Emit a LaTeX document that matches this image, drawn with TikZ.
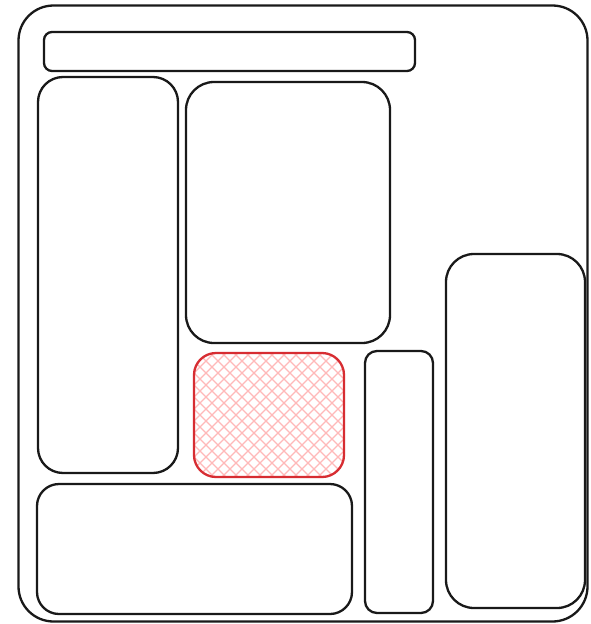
\documentclass[tikz,border=0pt]{standalone}
\begin{document}
\begin{tikzpicture}[x=1pt,y=-1pt,
  box/.style={draw=black!90, line width=2.3pt, rounded corners=#1, inner sep=0pt},
  box/.default=25pt]
\definecolor{hatchred}{RGB}{255,185,185}
\definecolor{edgered}{RGB}{215,45,50}
\useasboundingbox (0,0) rectangle (590,624);
\fill[white] (0,0) rectangle (590,624);
% outer frame
\node[box=35pt, minimum width=569pt, minimum height=616pt] (outer) at (303,313.5) {};
% top bar
\node[box=8pt, minimum width=371pt, minimum height=39pt] (bar) at (229.5,51.5) {};
% left tall
\node[box=25pt, minimum width=140pt, minimum height=396pt] (lefttall) at (108,275) {};
% top middle
\node[box=28pt, minimum width=204pt, minimum height=261pt] (topmid) at (288,212.5) {};
% red hatched
\begin{scope}
  \clip[rounded corners=22pt] (194,353) rectangle (344,477);
  \foreach \k in {-140,-128,...,300} {
    \draw[hatchred, line width=1.2pt] (194+\k,353) -- ++(124,124);
    \draw[hatchred, line width=1.2pt] (194+\k,477) -- ++(124,-124);
  }
\end{scope}
\node[box=22pt, draw=edgered, minimum width=150pt, minimum height=124pt] (red) at (269,415) {};
% bottom left
\node[box=22pt, minimum width=315pt, minimum height=130pt] (bottomleft) at (194.5,549) {};
% narrow
\node[box=12pt, minimum width=68pt, minimum height=262pt] (narrow) at (399,482) {};
% right tall
\node[box=28pt, minimum width=139pt, minimum height=354pt] (righttall) at (515.5,431) {};
\end{tikzpicture}
\end{document}
